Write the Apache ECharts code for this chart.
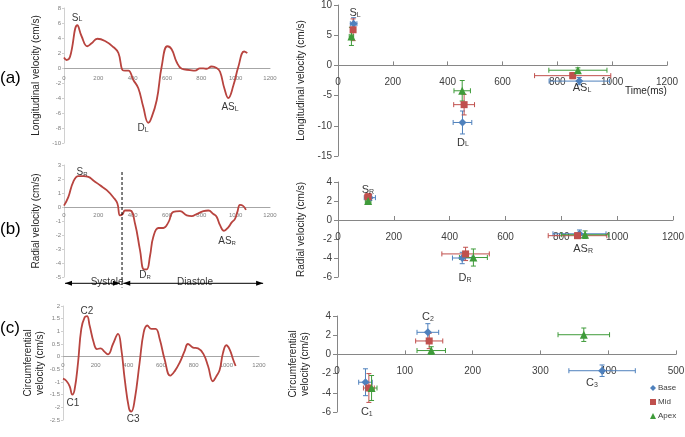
<!DOCTYPE html>
<html><head><meta charset="utf-8">
<script src="https://cdn.jsdelivr.net/npm/echarts@6/dist/echarts.min.js"></script>
<style>html,body{margin:0;padding:0;background:#fff}#c{width:685px;height:437px}</style>
</head><body><div id="c"></div>
<script>
// ---------- Left curves (time ms, velocity cm/s) ----------
const tLong = [0,15,35,78,103,136,161,194,239,287,317,342,355,375,404,433,462,491,505,540,569,602,627,656,686,734,763,792,812,831,860,889,909,934,957,987,1016,1049,1068];
const vLong = [1.4,1.07,1.5,5.7,4.2,2.9,3.3,3.9,3.6,2.8,2.0,-0.3,-0.35,-0.35,-1.6,-2.7,-5.2,-7.3,-6.9,-4.3,0.2,2.9,2.5,0.8,-0.1,-0.27,-0.35,-0.05,-0.05,-0.1,0.2,0,-0.5,-2.7,-4.0,-2.3,0.2,2.2,2.0];
const tRad = [0,25,54,84,113,142,171,210,249,287,311,326,342,355,385,414,443,466,482,501,520,550,579,608,637,676,715,744,773,812,841,870,889,909,932,957,977,996,1010,1025,1041,1060];
const vRad = [0.1,0.7,1.8,2.2,2.2,2.15,1.9,1.55,1.2,0.7,0.25,-0.6,-0.5,-0.25,-0.25,-1.2,-3.1,-4.45,-4.45,-3.5,-2.15,-1.5,-1.5,-1.1,-0.35,-0.3,-0.6,-0.65,-0.5,-0.3,-0.25,-0.5,-0.7,-1.3,-1.7,-1.45,-1.1,-0.85,-0.35,0.15,0.1,-0.2];
const tCirc = [0,20,41,57,71,92,112,133,147,163,188,208,229,255,276,306,337,357,378,404,418,439,469,494,516,541,567,592,622,657,684,714,745,765,796,827,861,888,918,939,959,980,1000,1020,1041,1057];
const vCirc = [-0.87,-0.95,-1.17,-1.5,-1.3,-0.24,1.1,1.56,1.6,1.23,0.56,0.3,0.33,0.19,0.09,0.5,0.9,0.3,-0.9,-2.04,-2.17,-1.7,-0.24,0.96,1.23,1.1,1.1,0.7,-0.1,-0.75,-0.57,-0.24,0.23,0.5,0.36,0.33,0.09,-0.37,-0.97,-0.77,-0.53,0.16,0.45,0.29,-0.1,-0.37];

// Systole / diastole boundary (ms) and phase spans
const phaseBoundary = 338;
const systoleSpan = [6, 326];
const diastoleSpan = [345, 1160];

// ---------- Right scatter (time, velocity, time error, velocity error) ----------
// Longitudinal: S_L, D_L, AS_L
const longBaseX = [57,454,880], longBaseY = [6.9,-9.45,-2.6], longBaseEx = [12,34,110], longBaseEy = [1.0,1.9,0.6];
const longMidX = [55,460,856], longMidY = [5.9,-6.5,-1.7], longMidEx = [8,38,139], longMidEy = [1.8,1.7,0.5];
const longApexX = [49,453,875], longApexY = [4.8,-4.2,-0.8], longApexEx = [8,30,106], longApexEy = [1.5,1.7,0.4];
// Radial: S_R, D_R, AS_R
const radBaseX = [114,445,865], radBaseY = [2.35,-4.0,-1.45], radBaseEx = [20,35,95], radBaseEy = [0.3,0.6,0.4];
const radMidX = [108,457,858], radMidY = [2.45,-3.57,-1.65], radMidEx = [12,85,105], radMidEy = [0.3,0.7,0.3];
const radApexX = [108,485,885], radApexY = [2.0,-3.95,-1.55], radApexEx = [10,50,85], radApexEy = [0.3,0.9,0.4];
// Circumferential: C1, C2, C3
const circBaseX = [42,134,391], circBaseY = [-2.9,2.3,-1.7], circBaseEx = [10,16,49], circBaseEy = [1.4,0.9,0.6];
const circMidX = [47,136], circMidY = [-3.5,1.4], circMidEx = [8,20], circMidEy = [1.5,0.8];
const circApexX = [51,139,364], circApexY = [-3.5,0.4,2.05], circApexEx = [8,21,38], circApexEy = [1.3,0.4,0.7];

const groupNames = ['Base','Mid','Apex'];

// ---------- styling ----------
const FONT = 'Liberation Sans, Arial, sans-serif';
const curveColor = '#b8443f';
const colors = {Base:'#4f81bd', Mid:'#c0504d', Apex:'#3f9b3a'};
const symbols = {Base:'diamond', Mid:'rect', Apex:'triangle'};
const symSize = {Base:8, Mid:7, Apex:8};

const pairs = (a,b) => a.map((x,i)=>[x,b[i]]);
const quad = (x,y,ex,ey) => x.map((v,i)=>[v,y[i],ex[i],ey[i]]);
const plainNum = v => String(v);

const gridBoxes = [
  {left:64, top:8, width:206, height:135},
  {left:64, top:165, width:206, height:112},
  {left:63, top:306, width:196, height:114},
  {left:338, top:5, width:329, height:151},
  {left:338, top:182, width:335, height:95},
  {left:337, top:316, width:339, height:96}
];
const grids = gridBoxes.map(g=>Object.assign({outerBoundsMode:'none', containLabel:false}, g));
const yRanges = [[-10,8,2],[-5,3,1],[-2.5,2,0.5],[-15,10,5],[-6,4,2],[-6,4,2]];
// x axis sits at y = 0 : offset from grid bottom derived from the y range
const zeroOffset = i => -gridBoxes[i].height * (0 - yRanges[i][0]) / (yRanges[i][1] - yRanges[i][0]);

function leftX(i, margin){
  return {gridIndex:i, type:'value', min:0, max:1200, interval:200, position:'bottom', offset:zeroOffset(i),
    axisLine:{onZero:false, lineStyle:{color:'#a6a6a6', width:1}},
    axisTick:{show:false}, splitLine:{show:false},
    axisLabel:{fontSize:6, color:'#7f7f7f', margin:margin, fontFamily:FONT, formatter:plainNum}};
}
function leftY(i, name, gap){
  const r = yRanges[i];
  return {gridIndex:i, type:'value', min:r[0], max:r[1], interval:r[2],
    name:name, nameLocation:'middle', nameGap:gap,
    nameTextStyle:{fontSize:10, color:'#262626', fontFamily:FONT, lineHeight:12},
    axisLine:{show:true, onZero:false, lineStyle:{color:'#d0d0d0'}},
    axisTick:{show:true, length:2, lineStyle:{color:'#d0d0d0'}}, splitLine:{show:false},
    axisLabel:{fontSize:6, color:'#7f7f7f', margin:3, fontFamily:FONT}};
}
function rightX(i, max, interval){
  return {gridIndex:i, type:'value', min:0, max:max, interval:interval, position:'bottom', offset:zeroOffset(i),
    axisLine:{onZero:false, lineStyle:{color:'#868686', width:1}},
    axisTick:{show:true, inside:true, length:4, lineStyle:{color:'#868686'}}, splitLine:{show:false},
    axisLabel:{fontSize:10, color:'#404040', margin:12, fontFamily:FONT, formatter:plainNum}};
}
function rightY(i, name, gap){
  const r = yRanges[i];
  return {gridIndex:i, type:'value', min:r[0], max:r[1], interval:r[2],
    name:name, nameLocation:'middle', nameGap:gap,
    nameTextStyle:{fontSize:10, color:'#262626', fontFamily:FONT, lineHeight:12},
    axisLine:{show:true, onZero:false, lineStyle:{color:'#868686'}},
    axisTick:{show:true, length:4, lineStyle:{color:'#868686'}}, splitLine:{show:false},
    axisLabel:{fontSize:10, color:'#404040', margin:6, fontFamily:FONT}};
}

const xAxis = [leftX(0,7), leftX(1,5), leftX(2,6), rightX(3,1200,200), rightX(4,1200,200), rightX(5,500,100)];
const yAxis = [
  leftY(0,'Longitudinal velocity (cm/s)',22),
  leftY(1,'Radial velocity (cm/s)',22),
  leftY(2,'Circumferential\nvelocity (cm/s)',17),
  rightY(3,'Longitudinal velocity (cm/s)',31),
  rightY(4,'Radial velocity (cm/s)',31),
  rightY(5,'Circumferential\nvelocity (cm/s)',26)
];

const series = [];
// left curves
[[tLong,vLong],[tRad,vRad],[tCirc,vCirc]].forEach((d,i)=>{
  series.push({type:'line', xAxisIndex:i, yAxisIndex:i, data:pairs(d[0],d[1]), smooth:0.45,
    showSymbol:false, symbol:'none', clip:false, lineStyle:{color:curveColor, width:1.8}, silent:true});
});

// systole / diastole guides in panel (b): [x1,y1,x2,y2,kind] kind 0 = dashed line, 1 = double arrow
const guideData = [
  [phaseBoundary, 2.5, phaseBoundary, -5.75, 0],
  [systoleSpan[0], -5.45, systoleSpan[1], -5.45, 1],
  [diastoleSpan[0], -5.45, diastoleSpan[1], -5.45, 1]
];
function guideRender(params, api){
  const p1 = api.coord([api.value(0), api.value(1)]);
  const p2 = api.coord([api.value(2), api.value(3)]);
  const kind = api.value(4);
  const children = [{type:'line', shape:{x1:p1[0],y1:p1[1],x2:p2[0],y2:p2[1]},
    style:{stroke:'#000', lineWidth:1, lineDash: kind===0 ? [3,2] : null}}];
  if(kind===1){
    const head = (p, q) => {
      const dx=p[0]-q[0], dy=p[1]-q[1], L=Math.hypot(dx,dy)||1, ux=dx/L, uy=dy/L, nx=-uy, ny=ux;
      return {type:'polygon', shape:{points:[[p[0],p[1]],[p[0]-ux*7+nx*2.5,p[1]-uy*7+ny*2.5],[p[0]-ux*7-nx*2.5,p[1]-uy*7-ny*2.5]]},
        style:{fill:'#000'}};
    };
    children.push(head(p1,p2), head(p2,p1));
  }
  return {type:'group', children};
}
series.push({type:'custom', xAxisIndex:1, yAxisIndex:1, renderItem:guideRender, data:guideData,
  encode:{x:[0,2], y:[1,3]}, clip:false, silent:true, z:4});

// error bars renderer
function errRender(params, api){
  const x=api.value(0), y=api.value(1), ex=api.value(2), ey=api.value(3);
  const l=api.coord([x-ex,y]), r=api.coord([x+ex,y]), t=api.coord([x,y+ey]), b=api.coord([x,y-ey]);
  const c=api.visual('color'), cap=2.5;
  const st={stroke:c, lineWidth:1};
  const ln=(x1,y1,x2,y2)=>({type:'line', shape:{x1,y1,x2,y2}, style:st});
  return {type:'group', children:[
    ln(l[0],l[1],r[0],r[1]), ln(t[0],t[1],b[0],b[1]),
    ln(l[0],l[1]-cap,l[0],l[1]+cap), ln(r[0],r[1]-cap,r[0],r[1]+cap),
    ln(t[0]-cap,t[1],t[0]+cap,t[1]), ln(b[0]-cap,b[1],b[0]+cap,b[1])
  ]};
}

const rightData = [
  [[longBaseX,longBaseY,longBaseEx,longBaseEy],[longMidX,longMidY,longMidEx,longMidEy],[longApexX,longApexY,longApexEx,longApexEy]],
  [[radBaseX,radBaseY,radBaseEx,radBaseEy],[radMidX,radMidY,radMidEx,radMidEy],[radApexX,radApexY,radApexEx,radApexEy]],
  [[circBaseX,circBaseY,circBaseEx,circBaseEy],[circMidX,circMidY,circMidEx,circMidEy],[circApexX,circApexY,circApexEx,circApexEy]]
];
rightData.forEach((panel,pi)=>{
  const ax = pi+3;
  panel.forEach((d,gi)=>{
    const g = groupNames[gi];
    series.push({type:'custom', name:g+' error', xAxisIndex:ax, yAxisIndex:ax, renderItem:errRender,
      data:quad(d[0],d[1],d[2],d[3]), encode:{x:0,y:1}, itemStyle:{color:colors[g]}, clip:false, silent:true, z:2});
  });
  panel.forEach((d,gi)=>{
    const g = groupNames[gi];
    series.push({type:'scatter', name:g, xAxisIndex:ax, yAxisIndex:ax, data:pairs(d[0],d[1]),
      symbol:symbols[g], symbolSize:symSize[g], itemStyle:{color:colors[g], opacity:1}, silent:true, z:3});
  });
});

// annotations (data coordinates)
const rich = (big, small) => ({b:{fontSize:big, color:'#000', fontFamily:FONT, verticalAlign:'bottom', lineHeight:big+2},
                               s:{fontSize:small, color:'#000', fontFamily:FONT, verticalAlign:'bottom', lineHeight:big}});
function annot(axIdx, items, big, small){
  series.push({type:'scatter', xAxisIndex:axIdx, yAxisIndex:axIdx, symbolSize:0, silent:true, clip:false, z:5,
    data:items.map(it=>({value:[it[0],it[1]], label:{formatter:it[2]}})),
    label:{show:true, position:'inside', rich:rich(big,small), color:'#000', fontSize:big, fontFamily:FONT}});
}
annot(0, [[76,6.8,'{b|S}{s|L}'],[460,-7.9,'{b|D}{s|L}'],[967,-5.1,'{b|AS}{s|L}']], 10, 7);
annot(1, [[105,2.55,'{b|S}{s|R}'],[472,-4.8,'{b|D}{s|R}'],[950,-2.4,'{b|AS}{s|R}'],[251,-5.3,'{b|Systole}'],[763,-5.3,'{b|Diastole}']], 10, 6);
annot(2, [[147,1.84,'{b|C2}'],[61,-1.78,'{b|C1}'],[429,-2.45,'{b|C3}']], 10, 7);
annot(3, [[62,8.8,'{b|S}{s|L}'],[456,-12.6,'{b|D}{s|L}'],[890,-3.6,'{b|AS}{s|L}']], 11, 7);
annot(4, [[107,3.3,'{b|S}{s|R}'],[455,-6.0,'{b|D}{s|R}'],[878,-2.95,'{b|AS}{s|R}']], 11, 7);
annot(5, [[134,4.0,'{b|C}{s|2}'],[44,-5.9,'{b|C}{s|1}'],[376,-2.9,'{b|C}{s|3}']], 11, 7);

const option = {
  animation:false,
  backgroundColor:'#fff',
  textStyle:{fontFamily:FONT},
  grid:grids, xAxis:xAxis, yAxis:yAxis, series:series,
  legend:{orient:'vertical', left:645, top:379, itemGap:6, itemWidth:6, itemHeight:6,
    textStyle:{fontSize:8, color:'#404040', fontFamily:FONT, padding:[0,0,0,-3]},
    data:[{name:'Base', icon:'diamond'},{name:'Mid', icon:'rect'},{name:'Apex', icon:'triangle'}]},
  graphic:[
    {type:'text', left:0, top:70, style:{text:'(a)', fontSize:17, fill:'#000', fontFamily:FONT}},
    {type:'text', left:0, top:221, style:{text:'(b)', fontSize:17, fill:'#000', fontFamily:FONT}},
    {type:'text', left:0, top:320, style:{text:'(c)', fontSize:17, fill:'#000', fontFamily:FONT}},
    {type:'text', left:625, top:86, style:{text:'Time(ms)', fontSize:10, fill:'#262626', fontFamily:FONT}}
  ]
};
const chart = echarts.init(document.getElementById('c'), null, {renderer:'canvas'});
chart.setOption(option);
</script></body></html>
